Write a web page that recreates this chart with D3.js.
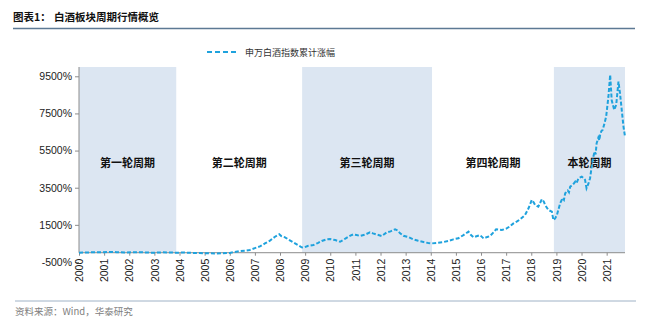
<!DOCTYPE html>
<html>
<head>
<meta charset="utf-8">
<script src="https://cdn.jsdelivr.net/npm/d3@7"></script>
<style>
  html, body { margin: 0; padding: 0; background: #fff; }
  svg { display: block; }
</style>
</head>
<body>
<svg id="chart" width="648" height="323"></svg>
<script>
// Time points (decimal years) and cumulative gain (%) of the 申万白酒 index
const years = [
  2000.0, 2000.3, 2000.6, 2000.9, 2001.2, 2001.5, 2001.8, 2002.1, 2002.4, 2002.7,
  2003.0, 2003.3, 2003.6, 2003.9, 2004.2, 2004.5, 2004.8, 2005.1, 2005.4, 2005.7,
  2006.0, 2006.2, 2006.4, 2006.6, 2006.8, 2007.0, 2007.2, 2007.4, 2007.6, 2007.8,
  2007.97, 2008.05, 2008.2, 2008.35, 2008.53, 2008.7, 2008.86, 2008.95, 2009.1, 2009.33,
  2009.5, 2009.66, 2009.85, 2009.99, 2010.2, 2010.39, 2010.6, 2010.8, 2010.92, 2011.05,
  2011.19, 2011.4, 2011.58, 2011.7, 2011.82, 2012.05, 2012.25, 2012.4, 2012.58, 2012.68,
  2012.78, 2012.91, 2013.1, 2013.31, 2013.5, 2013.71, 2013.9, 2014.04, 2014.3, 2014.5,
  2014.7, 2014.9, 2015.1, 2015.3, 2015.5, 2015.6, 2015.7, 2015.85, 2015.96, 2016.1,
  2016.25, 2016.36, 2016.5, 2016.6, 2016.83, 2017.02, 2017.15, 2017.29, 2017.45, 2017.56,
  2017.75, 2017.89, 2018.02, 2018.1, 2018.15, 2018.28, 2018.42, 2018.5, 2018.55, 2018.68,
  2018.82, 2018.88, 2018.95, 2019.02, 2019.15, 2019.25, 2019.3, 2019.35, 2019.45, 2019.5,
  2019.55, 2019.65, 2019.75, 2019.8, 2019.88, 2020.01, 2020.1, 2020.14, 2020.2, 2020.27,
  2020.34, 2020.4, 2020.47, 2020.52, 2020.56, 2020.6, 2020.67, 2020.71, 2020.74, 2020.79,
  2020.84, 2020.92, 2020.98, 2021.07, 2021.14, 2021.2, 2021.3, 2021.38, 2021.47, 2021.53,
  2021.6, 2021.67, 2021.73
];
const gains = [
  0, 10, 30, 20, 40, 30, 10, 20, 30, 10,
  0, 20, 10, 0, 10, -10, -20, -30, -40, -30,
  -10, 40, 90, 110, 150, 250, 340, 500, 650, 860,
  990, 900, 830, 700, 560, 420, 290, 280, 360, 415,
  520, 630, 720, 740, 680, 590, 760, 920, 990, 950,
  900, 980, 1100, 1040, 990, 900, 1100, 1150, 1260, 1200,
  1045, 915, 850, 720, 640, 575, 520, 500, 540, 575,
  630, 720, 780, 950, 1130, 950, 830, 900, 950, 770,
  850, 900, 1100, 1260, 1220, 1310, 1420, 1580, 1700, 1800,
  2030, 2390, 2840, 2700, 2570, 2480, 2880, 2750, 2570, 2300,
  2210, 1760, 1850, 2030, 2660, 2950, 2850, 3200, 3350, 3250,
  3560, 3650, 3830, 3750, 4010, 4100, 4000, 3920, 3470, 3700,
  4010, 4600, 5170, 5450, 5300, 5890, 6200, 6050, 6340, 6550,
  6610, 7000, 7330, 8400, 9580, 8220, 7690, 7960, 9220, 8590,
  7690, 6790, 6250
];

// Market cycles: name, start, end, shaded
const cycleNames = ["第一轮周期", "第二轮周期", "第三轮周期", "第四轮周期", "本轮周期"];
const cycleStarts = [2000.0, 2003.87, 2008.88, 2014.05, 2018.9];
const cycleEnds = [2003.87, 2008.88, 2014.05, 2018.9, 2021.73];
const cycleShaded = [true, false, true, false, true];

const yTicks = [-500, 1500, 3500, 5500, 7500, 9500];
const xTickYears = d3.range(2000, 2022);

const seriesName = "申万白酒指数累计涨幅";
const titleLead = "图表1：";
const titleText = "白酒板块周期行情概览";
const sourceText = "资料来源：Wind，华泰研究";

const svg = d3.select("#chart");
const latin = "'Liberation Sans', Arial, sans-serif";
const cjk = "'Noto Sans CJK SC', 'Noto Sans', sans-serif";
const lineColor = "#1fa2dd";
const axisColor = "#8c8c8c";

const x = d3.scaleLinear().domain([2000, 2021.73]).range([79, 625]);
const y = d3.scaleLinear().domain([-500, 10000]).range([262, 67]);
const y0 = y(0);

// Header
svg.append("text").attr("x", 13).attr("y", 21)
  .attr("font-family", cjk).attr("font-weight", 700).attr("font-size", 10.5)
  .attr("fill", "#111").text(titleLead);
svg.append("text").attr("x", 54).attr("y", 21)
  .attr("font-family", cjk).attr("font-weight", 700).attr("font-size", 10.5)
  .attr("fill", "#111").text(titleText);
svg.append("line").attr("x1", 13).attr("x2", 635).attr("y1", 28.5).attr("y2", 28.5)
  .attr("stroke", "#5d7994").attr("stroke-width", 1.3);

// Legend
svg.append("line").attr("x1", 207).attr("x2", 237).attr("y1", 52).attr("y2", 52)
  .attr("stroke", lineColor).attr("stroke-width", 2).attr("stroke-dasharray", "5,3");
svg.append("text").attr("x", 245).attr("y", 55.5)
  .attr("font-family", cjk).attr("font-size", 9).attr("fill", "#333").text(seriesName);

// Shaded cycle bands
const cycles = cycleNames.map((n, i) => ({ name: n, s: cycleStarts[i], e: cycleEnds[i], shaded: cycleShaded[i] }));
svg.append("g").selectAll("rect").data(cycles.filter(c => c.shaded)).join("rect")
  .attr("x", d => x(d.s)).attr("width", d => x(d.e) - x(d.s))
  .attr("y", y(10000)).attr("height", y0 - y(10000))
  .attr("fill", "#dce6f2");

// Cycle labels
svg.append("g").selectAll("text").data(cycles).join("text")
  .attr("x", d => (x(d.s) + x(d.e)) / 2).attr("y", 167)
  .attr("text-anchor", "middle")
  .attr("font-family", cjk).attr("font-weight", 700).attr("font-size", 11)
  .attr("fill", "#111").text(d => d.name);

// Y axis
const yAxis = svg.append("g").attr("transform", `translate(${x(2000)},0)`)
  .call(d3.axisLeft(y).tickValues(yTicks).tickSize(4).tickSizeOuter(0).tickFormat(d => d + "%"));
yAxis.select(".domain").remove();
yAxis.append("line").attr("x1", 0).attr("x2", 0).attr("y1", y(10000)).attr("y2", y0)
  .attr("stroke", axisColor);
yAxis.selectAll(".tick line").attr("stroke", axisColor);
yAxis.selectAll(".tick text").attr("font-family", latin).attr("font-size", 10.5)
  .attr("fill", "#222").attr("x", -7);

// X axis at the zero line
const xAxis = svg.append("g").attr("transform", `translate(0,${y0})`)
  .call(d3.axisBottom(x).tickValues(xTickYears).tickSize(3).tickSizeOuter(0).tickFormat(d3.format("d")));
xAxis.select(".domain").attr("stroke", axisColor).attr("d", `M${x(2000)},0H${x(2021.73)}`);
xAxis.selectAll(".tick line").attr("stroke", axisColor);
xAxis.selectAll(".tick text")
  .attr("font-family", latin).attr("font-size", 10.5).attr("fill", "#222")
  .attr("transform", "rotate(-90)")
  .attr("text-anchor", "end")
  .attr("x", -6).attr("y", 0).attr("dy", "0.35em");

// Index line
const pts = years.map((t, i) => [t, gains[i]]);
svg.append("path").datum(pts)
  .attr("fill", "none").attr("stroke", lineColor).attr("stroke-width", 2)
  .attr("stroke-dasharray", "4,2")
  .attr("d", d3.line().x(d => x(d[0])).y(d => y(d[1])));

// Footer
svg.append("line").attr("x1", 15).attr("x2", 636).attr("y1", 301).attr("y2", 301)
  .attr("stroke", "#9fb2c6").attr("stroke-width", 1);
svg.append("text").attr("x", 15).attr("y", 315)
  .attr("font-family", cjk).attr("font-size", 9.5).attr("fill", "#808080").text(sourceText);
</script>
</body>
</html>
